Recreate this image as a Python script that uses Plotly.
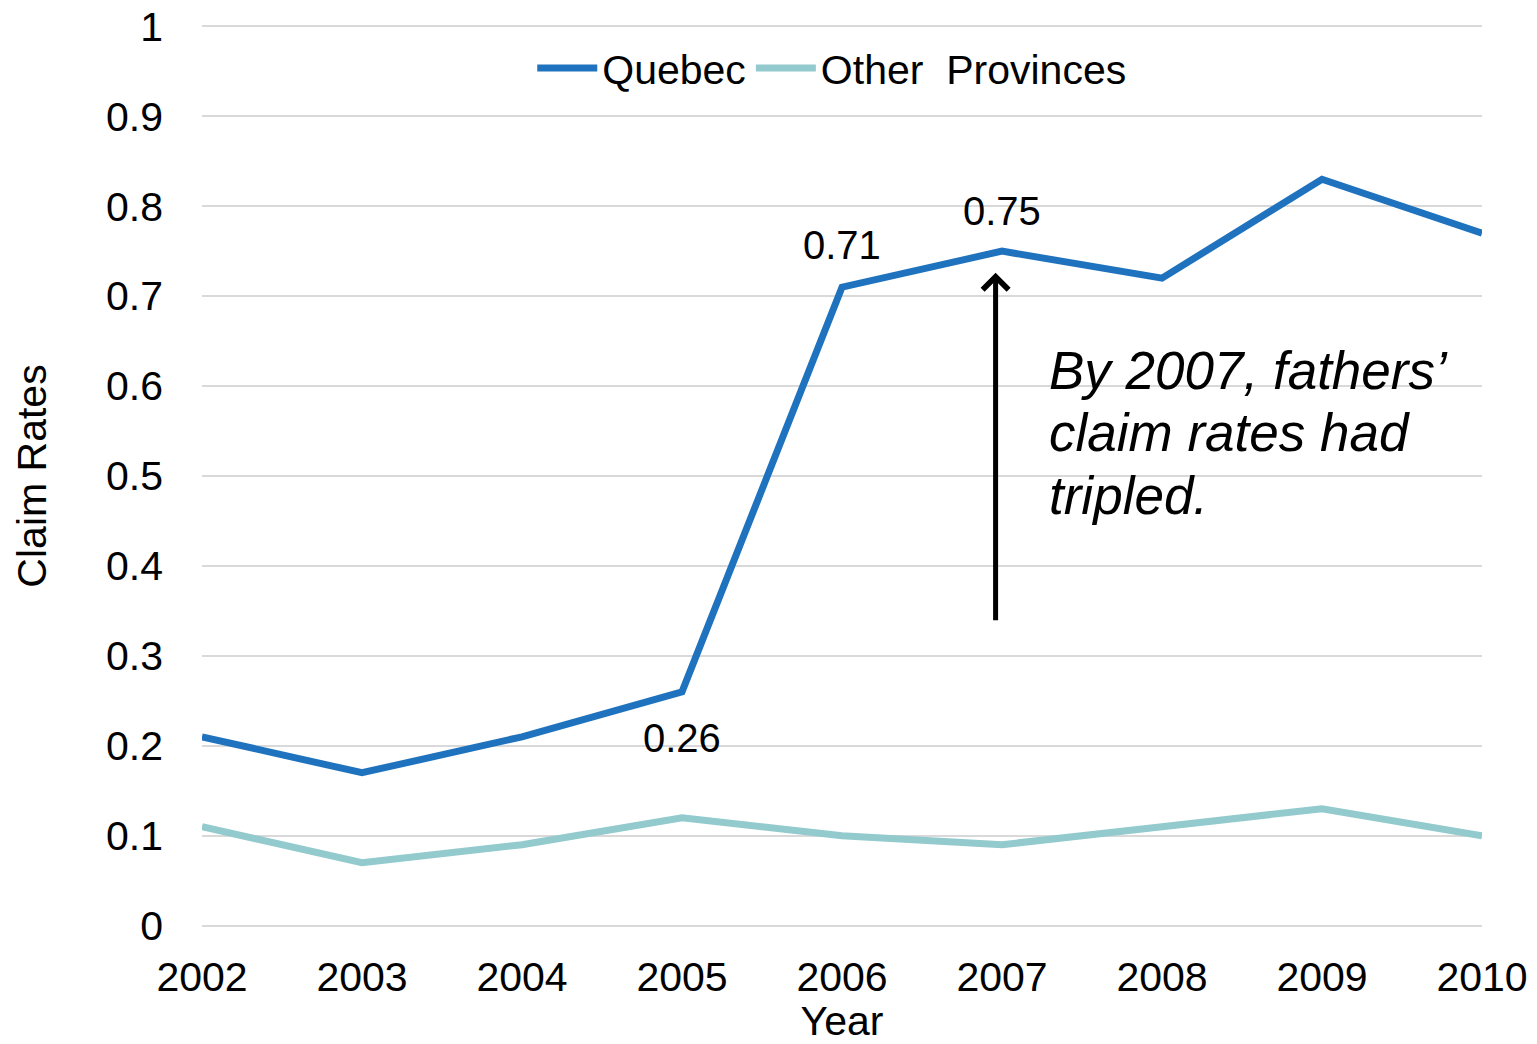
import plotly.graph_objects as go

years = [2002, 2003, 2004, 2005, 2006, 2007, 2008, 2009, 2010]
quebec = [0.21, 0.17, 0.21, 0.26, 0.71, 0.75, 0.72, 0.83, 0.77]
other = [0.11, 0.07, 0.09, 0.12, 0.10, 0.09, 0.11, 0.13, 0.10]
y_ticks = [0, 0.1, 0.2, 0.3, 0.4, 0.5, 0.6, 0.7, 0.8, 0.9, 1]
y_tick_text = ["0", "0.1", "0.2", "0.3", "0.4", "0.5", "0.6", "0.7", "0.8", "0.9", "1"]
labelled_years = [2005, 2006, 2007]
label_shifts = {2005: -46, 2006: 42, 2007: 40}
note_lines = ["By 2007, fathers’", "claim rates had", "tripled."]

FONT = "Liberation Sans, Arial, sans-serif"
QC = "#1F72BD"
OT = "#92CACD"

fig = go.Figure()
fig.add_trace(go.Scatter(x=years, y=quebec, mode="lines", name="Quebec",
                         line=dict(color=QC, width=7)))
fig.add_trace(go.Scatter(x=years, y=other, mode="lines", name="Other\u00a0\u00a0Provinces",
                         line=dict(color=OT, width=7)))

annotations = []
for yr in labelled_years:
    v = quebec[years.index(yr)]
    annotations.append(dict(x=yr, y=v, xref="x", yref="y", text=f"{v:.2f}",
                            showarrow=False, yshift=label_shifts[yr],
                            font=dict(family=FONT, size=40, color="black")))

# arrow
annotations.append(dict(x=2006.96, y=0.726, ax=2006.96, ay=0.338,
                        xref="x", yref="y", axref="x", ayref="y",
                        text="", showarrow=True, arrowhead=4, arrowsize=1.0,
                        arrowwidth=5, arrowcolor="black"))

note_y = [0.6175, 0.5477, 0.4789]
for line, py in zip(note_lines, note_y):
    annotations.append(dict(x=0.660, y=py, xref="paper", yref="paper",
                            xanchor="left", yanchor="middle", showarrow=False,
                            text=f"<i>{line}</i>",
                            font=dict(family=FONT, size=53, color="black")))

fig.update_layout(
    width=1537, height=1044,
    margin=dict(l=202, r=55, t=25, b=117, autoexpand=False),
    plot_bgcolor="white", paper_bgcolor="white",
    font=dict(family=FONT, size=41, color="black"),
    showlegend=True,
    legend=dict(orientation="h", x=0.492, xanchor="center", y=0.952, yanchor="middle",
                bgcolor="rgba(0,0,0,0)", font=dict(size=41), itemwidth=60,
                tracegroupgap=0),
    annotations=annotations,
)
fig.update_xaxes(range=[2002, 2010], tickvals=years, ticktext=[str(y) for y in years],
                 showgrid=False, zeroline=False, showline=False, automargin=False,
                 ticks="", ticklabelstandoff=22,
                 title=dict(text="Year", font=dict(size=41), standoff=9))
fig.update_yaxes(range=[-0.0015, 1.0015], tickvals=y_ticks, ticktext=y_tick_text,
                 showgrid=True, gridcolor="#D9D9D9", gridwidth=2, automargin=False,
                 zeroline=False, showline=False, ticks="", ticklabelstandoff=38,
                 title=dict(text="Claim Rates", font=dict(size=41), standoff=46))

fig.write_html("out.html")
